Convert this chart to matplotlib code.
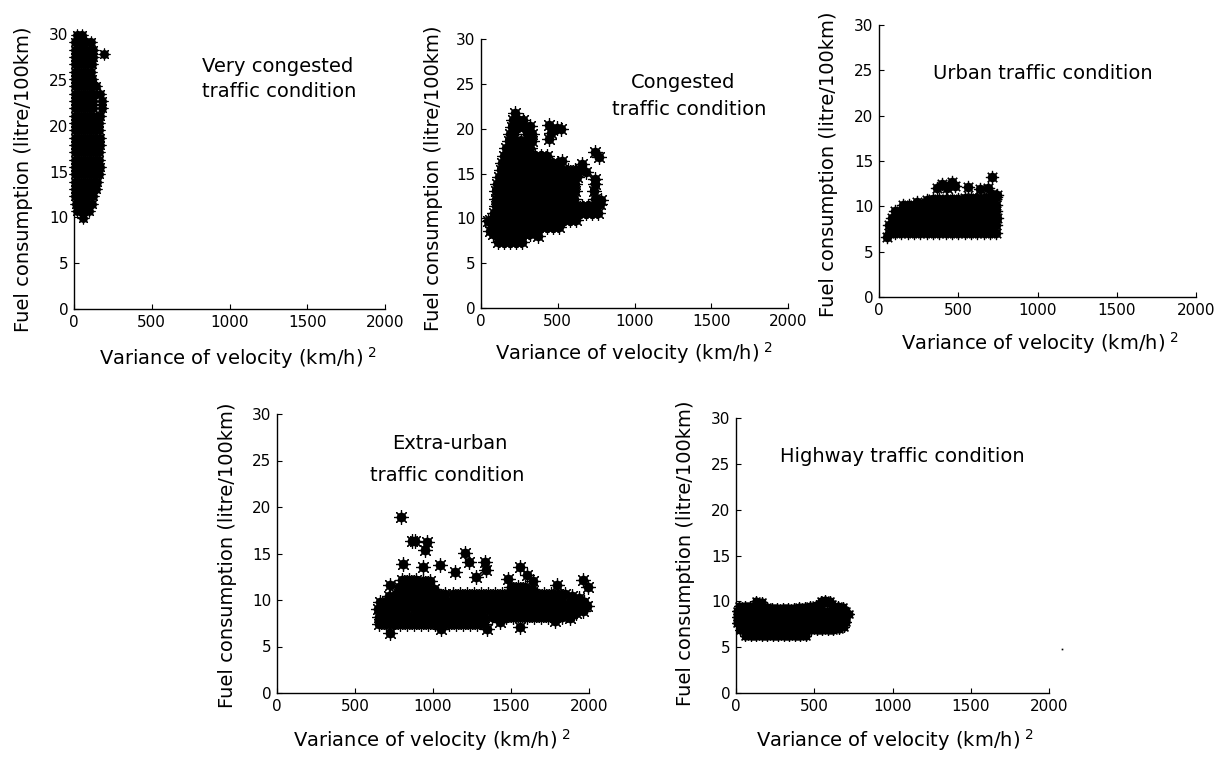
import matplotlib
matplotlib.use('Agg')
import matplotlib.pyplot as plt

plt.rcParams['font.family'] = ['DejaVu Sans']
plt.rcParams['mathtext.fontset'] = 'dejavusans'

# ---------------- data (variance of velocity, fuel consumption) ----------------
p1_xy = [
    (55, 9.9),
    (20, 10.7), (60, 10.7), (95, 10.7),
    (10, 11.5), (50, 11.5), (90, 11.5), (115, 11.5),
    (5, 12.3), (45, 12.3), (85, 12.3), (125, 12.3),
    (5, 13.1), (45, 13.1), (85, 13.1), (125, 13.1), (140, 13.1),
    (5, 13.9), (45, 13.9), (85, 13.9), (125, 13.9), (150, 13.9),
    (5, 14.7), (45, 14.7), (85, 14.7), (125, 14.7), (160, 14.7),
    (5, 15.5), (45, 15.5), (85, 15.5), (125, 15.5), (165, 15.5),
    (5, 16.3), (45, 16.3), (85, 16.3), (125, 16.3), (160, 16.3),
    (5, 17.1), (45, 17.1), (85, 17.1), (125, 17.1), (160, 17.1),
    (5, 17.9), (45, 17.9), (85, 17.9), (125, 17.9), (165, 17.9),
    (5, 18.7), (45, 18.7), (85, 18.7), (125, 18.7), (165, 18.7),
    (5, 19.5), (45, 19.5), (85, 19.5), (125, 19.5), (160, 19.5),
    (5, 20.3), (45, 20.3), (85, 20.3), (125, 20.3), (160, 20.3),
    (5, 21.1), (45, 21.1), (85, 21.1), (125, 21.1), (170, 21.1),
    (5, 21.9), (45, 21.9), (85, 21.9), (125, 21.9), (180, 21.9),
    (5, 22.7), (45, 22.7), (85, 22.7), (125, 22.7), (180, 22.7),
    (5, 23.5), (45, 23.5), (85, 23.5), (125, 23.5), (165, 23.5),
    (5, 24.3), (45, 24.3), (85, 24.3), (120, 24.3), (140, 24.3),
    (5, 25.1), (45, 25.1), (85, 25.1), (115, 25.1),
    (5, 25.9), (45, 25.9), (85, 25.9), (110, 25.9),
    (5, 26.7), (45, 26.7), (85, 26.7), (115, 26.7),
    (5, 27.5), (45, 27.5), (85, 27.5), (120, 27.5),
    (5, 28.3), (45, 28.3), (85, 28.3), (125, 28.3),
    (5, 29.1), (40, 29.1), (80, 29.1), (110, 29.1),
    (20, 29.9), (50, 29.9),
    (190, 27.8),
]

p2_xy = [
    (110, 7.4), (150, 7.4), (190, 7.4), (230, 7.4), (265, 7.4),
    (80, 8.2), (120, 8.2), (160, 8.2), (200, 8.2), (240, 8.2), (280, 8.2), (320, 8.2), (370, 8.0),
    (70, 9.0), (110, 9.0), (150, 9.0), (190, 9.0), (230, 9.0), (270, 9.0), (310, 9.0), (350, 9.0),
    (390, 9.0), (430, 9.0), (470, 9.0), (505, 9.0),
    (60, 9.8), (100, 9.8), (140, 9.8), (180, 9.8), (220, 9.8), (260, 9.8), (300, 9.8), (340, 9.8),
    (380, 9.8), (420, 9.8), (460, 9.8), (500, 9.8), (540, 9.8), (580, 9.8), (620, 9.8),
    (85, 10.6), (125, 10.6), (165, 10.6), (205, 10.6), (245, 10.6), (285, 10.6), (325, 10.6),
    (365, 10.6), (405, 10.6), (445, 10.6), (485, 10.6), (525, 10.6), (565, 10.6), (605, 10.6),
    (645, 10.6), (685, 10.6), (725, 10.6), (760, 10.6),
    (95, 11.4), (135, 11.4), (175, 11.4), (215, 11.4), (255, 11.4), (295, 11.4), (335, 11.4),
    (375, 11.4), (415, 11.4), (455, 11.4), (495, 11.4), (535, 11.4), (575, 11.4), (615, 11.4),
    (655, 11.4), (695, 11.4), (735, 11.4), (775, 11.6),
    (98, 12.2), (138, 12.2), (178, 12.2), (218, 12.2), (258, 12.2), (298, 12.2), (338, 12.2),
    (378, 12.2), (418, 12.2), (458, 12.2), (498, 12.2), (538, 12.2), (578, 12.2), (605, 12.2),
    (745, 12.2), (785, 12.0),
    (100, 13.0), (140, 13.0), (180, 13.0), (220, 13.0), (260, 13.0), (300, 13.0), (340, 13.0),
    (380, 13.0), (420, 13.0), (460, 13.0), (500, 13.0), (540, 13.0), (580, 13.0), (610, 13.0),
    (735, 13.0),
    (105, 13.8), (145, 13.8), (185, 13.8), (225, 13.8), (265, 13.8), (305, 13.8), (345, 13.8),
    (385, 13.8), (425, 13.8), (465, 13.8), (505, 13.8), (545, 13.8), (585, 13.8), (615, 13.8),
    (740, 13.8),
    (115, 14.6), (155, 14.6), (195, 14.6), (235, 14.6), (275, 14.6), (315, 14.6), (355, 14.6),
    (395, 14.6), (435, 14.6), (475, 14.6), (515, 14.6), (555, 14.6), (595, 14.6), (625, 14.6),
    (740, 14.4),
    (128, 15.4), (168, 15.4), (208, 15.4), (248, 15.4), (288, 15.4), (328, 15.4), (368, 15.4),
    (408, 15.4), (448, 15.4), (488, 15.4), (528, 15.4), (568, 15.4), (610, 15.4), (650, 15.4),
    (685, 15.2),
    (140, 16.2), (180, 16.2), (220, 16.2), (260, 16.2), (300, 16.2), (340, 16.2), (380, 16.2),
    (420, 16.2), (460, 16.2), (500, 16.2), (530, 16.4), (655, 16.1),
    (153, 17.0), (193, 17.0), (233, 17.0), (273, 17.0), (313, 17.0), (353, 17.0), (393, 16.9),
    (430, 16.9),
    (165, 17.8), (205, 17.8), (245, 17.8), (285, 17.8), (320, 17.8),
    (180, 18.6), (220, 18.6), (260, 18.6), (295, 18.6), (330, 18.6),
    (190, 19.4), (215, 19.4), (300, 19.4), (330, 19.4),
    (200, 20.2), (240, 20.2), (280, 20.2), (320, 20.3),
    (210, 21.0), (245, 21.0), (275, 21.0),
    (222, 21.8),
    (440, 20.4), (455, 19.5), (440, 18.8), (495, 20.1), (520, 20.0),
    (745, 17.4), (770, 16.8), (48, 9.7), (60, 8.6),
]

p3_xy = [
    (60, 7.1), (100, 7.1), (140, 7.1), (180, 7.1), (220, 7.1), (260, 7.1), (300, 7.1), (340, 7.1),
    (380, 7.1), (420, 7.1), (460, 7.1), (500, 7.1), (540, 7.1), (580, 7.1), (620, 7.1), (660, 7.1),
    (700, 7.1), (740, 7.1),
    (65, 7.9), (105, 7.9), (145, 7.9), (185, 7.9), (225, 7.9), (265, 7.9), (305, 7.9), (345, 7.9),
    (385, 7.9), (425, 7.9), (465, 7.9), (505, 7.9), (545, 7.9), (585, 7.9), (625, 7.9), (665, 7.9),
    (705, 7.9), (740, 7.9),
    (80, 8.7), (120, 8.7), (160, 8.7), (200, 8.7), (240, 8.7), (280, 8.7), (320, 8.7), (360, 8.7),
    (400, 8.7), (440, 8.7), (480, 8.7), (520, 8.7), (560, 8.7), (600, 8.7), (640, 8.7), (680, 8.7),
    (720, 8.7), (745, 8.7),
    (100, 9.5), (140, 9.5), (180, 9.5), (220, 9.5), (260, 9.5), (300, 9.5), (340, 9.5), (380, 9.5),
    (420, 9.5), (460, 9.5), (500, 9.5), (540, 9.5), (580, 9.5), (620, 9.5), (660, 9.5), (700, 9.5),
    (740, 9.5),
    (150, 10.1), (190, 10.1), (230, 10.2), (270, 10.2), (310, 10.2), (350, 10.2), (390, 10.2),
    (430, 10.2), (470, 10.2), (510, 10.2), (550, 10.2), (590, 10.2), (630, 10.2), (670, 10.2),
    (710, 10.2), (740, 10.2),
    (240, 10.5), (300, 10.7), (340, 10.8), (380, 10.8), (420, 10.8), (460, 10.8), (500, 10.8),
    (540, 10.9), (580, 10.9), (620, 10.9), (660, 10.9), (700, 11.0), (740, 11.0),
    (710, 11.4), (745, 11.3),
    (364, 12.0), (396, 12.5), (462, 12.7), (480, 12.2), (430, 12.0), (560, 12.1), (640, 11.9),
    (690, 12.0), (712, 13.2), (49, 6.6),
]

p4_xy = [
    (655, 7.4), (700, 7.4), (745, 7.4), (790, 7.4), (835, 7.4), (880, 7.4), (925, 7.4), (970, 7.4),
    (1015, 7.4), (1060, 7.4), (1105, 7.4), (1150, 7.4), (1195, 7.4), (1240, 7.4), (1285, 7.4),
    (1330, 7.4),
    (655, 8.2), (700, 8.2), (745, 8.2), (790, 8.2), (835, 8.2), (880, 8.2), (925, 8.2), (970, 8.2),
    (1015, 8.2), (1060, 8.2), (1105, 8.2), (1150, 8.2), (1195, 8.2), (1240, 8.2), (1285, 8.2),
    (1330, 8.2), (1375, 8.2), (1420, 8.2), (1465, 8.2), (1510, 8.2), (1555, 8.2), (1600, 8.2),
    (1645, 8.2), (1690, 8.2), (1735, 8.2), (1780, 8.2), (1825, 8.2), (1870, 8.4), (1915, 8.6),
    (1960, 8.8),
    (650, 9.0), (695, 9.0), (740, 9.0), (785, 9.0), (830, 9.0), (875, 9.0), (920, 9.0), (965, 9.0),
    (1010, 9.0), (1055, 9.0), (1100, 9.0), (1145, 9.0), (1190, 9.0), (1235, 9.0), (1280, 9.0),
    (1325, 9.0), (1370, 9.0), (1415, 9.0), (1460, 9.0), (1505, 9.0), (1550, 9.0), (1595, 9.0),
    (1640, 9.0), (1685, 9.0), (1730, 9.0), (1775, 9.0), (1820, 9.0), (1865, 9.0), (1910, 9.0),
    (1955, 9.2), (1985, 9.4),
    (660, 9.8), (705, 9.8), (750, 9.8), (795, 9.8), (840, 9.8), (885, 9.8), (930, 9.8), (975, 9.8),
    (1020, 9.8), (1065, 9.8), (1110, 9.8), (1155, 9.8), (1200, 9.8), (1245, 9.8), (1290, 9.8),
    (1335, 9.8), (1380, 9.8), (1425, 9.8), (1470, 9.8), (1515, 9.8), (1560, 9.8), (1605, 9.8),
    (1650, 9.8), (1695, 9.8), (1740, 9.8), (1785, 9.8), (1830, 9.8), (1875, 9.8), (1920, 9.8),
    (1965, 9.8),
    (720, 10.4), (765, 10.6), (810, 10.6), (855, 10.6), (900, 10.6), (945, 10.6), (990, 10.6),
    (1035, 10.6), (1080, 10.6), (1125, 10.6), (1170, 10.6), (1215, 10.6), (1260, 10.6), (1305, 10.6),
    (1350, 10.6), (1395, 10.6), (1440, 10.6), (1485, 10.6), (1530, 10.6), (1575, 10.6), (1620, 10.6),
    (1665, 10.6), (1710, 10.6), (1755, 10.6), (1800, 10.6), (1845, 10.6), (1890, 10.4), (1935, 10.2),
    (780, 11.4), (825, 11.4), (870, 11.4), (915, 11.4), (960, 11.4), (1005, 11.2),
    (1500, 11.4), (1545, 11.4), (1590, 11.4), (1635, 11.2),
    (800, 12.2), (845, 12.2), (890, 12.2), (935, 12.0), (980, 12.0),
    (725, 6.4), (1050, 6.9), (1343, 6.9), (1430, 7.6), (1556, 7.1), (1780, 7.7), (1876, 8.1),
    (793, 18.9), (863, 16.3), (885, 16.3), (960, 16.2), (949, 15.4), (1205, 15.1), (1233, 14.1),
    (1333, 14.1), (1340, 13.2), (1558, 13.6), (1141, 13.0), (1045, 13.8), (810, 13.9), (938, 13.6),
    (1276, 12.5), (1483, 12.3), (1601, 12.7), (1643, 12.0), (1963, 12.1), (1995, 11.4),
    (1793, 11.6), (724, 11.6),
]

p5_xy = [
    (60, 6.2), (95, 6.2), (130, 6.2), (165, 6.2), (200, 6.2), (235, 6.2), (270, 6.2), (305, 6.2),
    (340, 6.2), (375, 6.2), (410, 6.2), (445, 6.2),
    (25, 6.9), (60, 6.9), (95, 6.9), (130, 6.9), (165, 6.9), (200, 6.9), (235, 6.9), (270, 6.9),
    (305, 6.9), (340, 6.9), (375, 6.9), (410, 6.9), (445, 6.9), (480, 6.9), (515, 6.9), (550, 6.9),
    (585, 6.9), (620, 6.9), (655, 7.0), (690, 7.2),
    (5, 7.6), (40, 7.6), (75, 7.6), (110, 7.6), (145, 7.6), (180, 7.6), (215, 7.6), (250, 7.6),
    (285, 7.6), (320, 7.6), (355, 7.6), (390, 7.6), (425, 7.6), (460, 7.6), (495, 7.6), (530, 7.6),
    (565, 7.6), (600, 7.6), (635, 7.6), (670, 7.6), (705, 7.8),
    (5, 8.3), (40, 8.3), (75, 8.3), (110, 8.3), (145, 8.3), (180, 8.3), (215, 8.3), (250, 8.3),
    (285, 8.3), (320, 8.3), (355, 8.3), (390, 8.3), (425, 8.3), (460, 8.3), (495, 8.3), (530, 8.3),
    (565, 8.3), (600, 8.3), (635, 8.3), (670, 8.3), (705, 8.3), (725, 8.6),
    (5, 9.0), (40, 9.0), (75, 9.0), (110, 9.0), (145, 9.0), (180, 9.0), (215, 9.0), (250, 9.0),
    (285, 9.0), (320, 9.0), (355, 9.0), (390, 9.0), (425, 9.0), (460, 9.0), (495, 9.0), (530, 9.0),
    (565, 9.0), (600, 9.0), (635, 9.0), (670, 9.0), (705, 9.0),
    (20, 9.5), (55, 9.5), (90, 9.5), (125, 9.6), (160, 9.6), (195, 9.4), (230, 9.3), (265, 9.3),
    (300, 9.3), (335, 9.3), (370, 9.3), (405, 9.4), (440, 9.4), (475, 9.5), (510, 9.6), (545, 9.7),
    (580, 9.8), (615, 9.7), (650, 9.5), (685, 9.4),
    (130, 10.0), (165, 9.9), (540, 10.0), (570, 10.1), (600, 10.0),
]
p5_stray_xy = [(2080, 4.8)]

x_ticks = [0, 500, 1000, 1500, 2000]
y_ticks = [0, 5, 10, 15, 20, 25, 30]
x_label = r'Variance of velocity (km/h)$^{\ 2}$'
y_label = 'Fuel consumption (litre/100km)'

# ---------------- layout ----------------
W, H = 1227, 757
fig = plt.figure(figsize=(W / 100, H / 100), dpi=100)


def rect(l, t, r, b):
    return [l / W, 1 - b / H, (r - l) / W, (b - t) / H]


panels = [
    dict(data=p1_xy, rect=rect(74, 34, 385, 309), star=8.5, dot=6.4,
         ylab=(-0.132, 0.473), xlab=(0.528, -0.131),
         texts=[('Very congested', 821, 26.4, 'left'), ('traffic condition', 821, 23.7, 'left')]),
    dict(data=p2_xy, rect=rect(481, 39, 788, 308), star=10.5, dot=6.9,
         ylab=(-0.124, 0.482), xlab=(0.498, -0.119),
         texts=[('Congested', 1317, 25.2, 'center'), ('traffic condition', 1354, 22.1, 'center')]),
    dict(data=p3_xy, rect=rect(879, 25, 1196, 297), star=9.5, dot=6.9,
         ylab=(-0.129, 0.489), xlab=(0.506, -0.121),
         texts=[('Urban traffic condition', 1035, 24.6, 'center')]),
    dict(data=p4_xy, rect=rect(277, 414, 589, 693), star=10.5, dot=7.0,
         ylab=(-0.129, 0.495), xlab=(0.496, -0.121),
         texts=[('Extra-urban', 1109, 26.8, 'center'), ('traffic condition', 1092, 23.4, 'center')]),
    dict(data=p5_xy, rect=rect(736, 418, 1049, 693), star=7.8, dot=6.0,
         ylab=(-0.131, 0.509), xlab=(0.508, -0.123),
         texts=[('Highway traffic condition', 1063, 25.8, 'center')]),
]

star_marker = (8, 2, 0)

for i, p in enumerate(panels):
    ax = fig.add_axes(p['rect'])
    xs = [v[0] for v in p['data']]
    ys = [v[1] for v in p['data']]
    ax.plot(xs, ys, ls='none', marker='o', ms=p['dot'], mfc='k', mec='k', mew=0, clip_on=False)
    ax.plot(xs, ys, ls='none', marker=star_marker, ms=p['star'], mec='k', mew=0.85, clip_on=False)
    if i == 4:
        sx = [v[0] for v in p5_stray_xy]
        sy = [v[1] for v in p5_stray_xy]
        ax.plot(sx, sy, ls='none', marker='s', ms=1.2, color='k', mew=0, clip_on=False)
    ax.set_xlim(0, 2000)
    ax.set_ylim(0, 30)
    ax.set_xticks(x_ticks)
    ax.set_yticks(y_ticks)
    ax.spines['top'].set_visible(False)
    ax.spines['right'].set_visible(False)
    for s in ('left', 'bottom'):
        ax.spines[s].set_linewidth(1.0)
    ax.tick_params(direction='in', length=3.5, width=0.8, labelsize=11, pad=4)
    ax.set_xlabel(x_label, fontsize=14)
    ax.set_ylabel(y_label, fontsize=14)
    ax.xaxis.set_label_coords(*p['xlab'])
    ax.yaxis.set_label_coords(*p['ylab'])
    ax.xaxis.label.set_va('top')
    for txt, tx, ty, ha in p['texts']:
        ax.text(tx, ty, txt, fontsize=14, ha=ha, va='center')

fig.savefig('out.png', dpi=100)
